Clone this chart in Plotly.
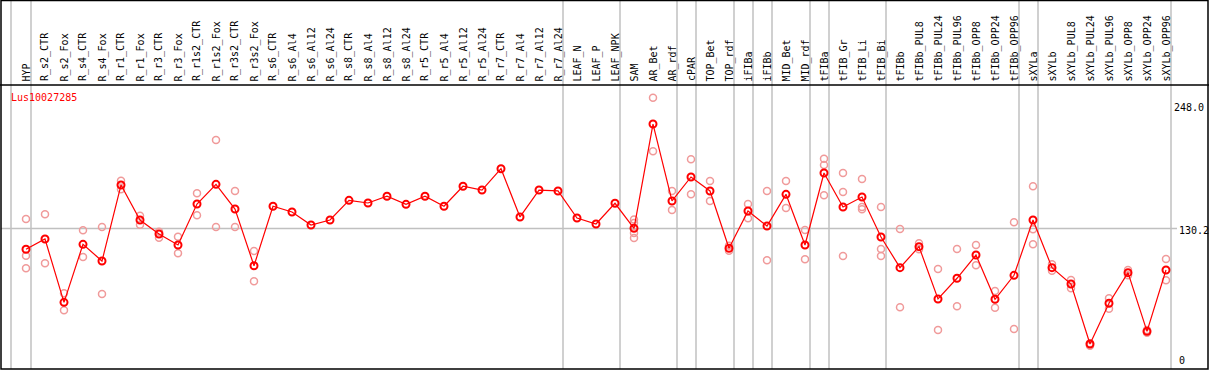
import plotly.graph_objects as go

categories = ["HYP", "R_s2_CTR", "R_s2_Fox", "R_s4_CTR", "R_s4_Fox", "R_r1_CTR", "R_r1_Fox",
              "R_r3_CTR", "R_r3_Fox", "R_r1s2_CTR", "R_r1s2_Fox", "R_r3s2_CTR", "R_r3s2_Fox",
              "R_s6_CTR", "R_s6_Al4", "R_s6_Al12", "R_s6_Al24", "R_s8_CTR", "R_s8_Al4",
              "R_s8_Al12", "R_s8_Al24", "R_r5_CTR", "R_r5_Al4", "R_r5_Al12", "R_r5_Al24",
              "R_r7_CTR", "R_r7_Al4", "R_r7_Al12", "R_r7_Al24", "LEAF_N", "LEAF_P", "LEAF_NPK",
              "SAM", "AR_Bet", "AR_rdf", "cPAR", "TOP_Bet", "TOP_rdf", "iFIBa", "iFIBb",
              "MID_Bet", "MID_rdf", "tFIBa", "tFIB_Gr", "tFIB_Li", "tFIB_Bi", "tFIBb",
              "tFIBb_PUL8", "tFIBb_PUL24", "tFIBb_PUL96", "tFIBb_OPP8", "tFIBb_OPP24",
              "tFIBb_OPP96", "sXYLa", "sXYLb", "sXYLb_PUL8", "sXYLb_PUL24", "sXYLb_PUL96",
              "sXYLb_OPP8", "sXYLb_OPP24", "sXYLb_OPP96"]

means = [109.8, 119.9, 57.8, 114.7, 98.3, 172.8, 138.5, 124.8, 114.0, 154.2, 173.5, 149.3, 93.7,
         152.0, 146.4, 133.6, 138.5, 157.8, 155.2, 161.8, 153.9, 161.8, 152.0, 171.6, 167.9,
         188.8, 141.5, 167.9, 167.0, 140.5, 134.6, 154.9,
         130.4, 232.6, 157.2, 180.7, 167.0, 110.8, 147.4, 132.6, 163.7, 114.0, 184.6, 151.3,
         161.1, 121.9, 91.8, 112.4, 61.1, 81.4, 104.2, 60.8, 84.3, 138.5, 91.8, 75.8, 17.0,
         56.9, 86.9, 29.4, 89.5]

replicates = [
    [139.5, 103.5, 91.2], [144.1, 96.1], [66.7, 50.0], [128.4, 102.3], [131.7, 66.0],
    [177.1, 168.6], [142.7, 133.9], [127.1, 121.2], [122.2, 105.9], [164.7, 143.1],
    [217.0, 131.7], [167.0, 131.7], [108.1, 78.4],
    [], [], [], [], [], [], [], [], [], [], [], [], [], [], [], [], [], [], [],
    [139.0, 135.6, 125.8, 120.9], [258.4, 205.9], [167.0, 148.3], [198.0, 163.7],
    [176.8, 157.2], [113.3, 108.4], [154.2, 140.2], [167.0, 99.0], [176.8, 150.3],
    [128.7, 100.0], [198.6, 192.5, 162.7], [184.6, 166.0, 103.2], [178.7, 151.3, 149.0],
    [151.3, 110.1, 103.2], [129.7, 52.9], [115.7, 109.8], [90.5, 30.7], [110.1, 53.9],
    [114.0, 94.1], [68.9, 52.5], [136.3, 31.7], [171.6, 129.4, 114.7], [95.1, 88.8],
    [79.7, 71.6], [17.6, 15.3], [61.8, 51.6], [89.5, 84.3], [30.7, 28.0], [100.3, 79.4]]

group_ends = ["HYP", "R_r7_Al24", "LEAF_NPK", "AR_rdf", "cPAR", "TOP_rdf", "iFIBa", "iFIBb",
              "MID_rdf", "tFIBa", "tFIB_Bi", "tFIBb_OPP96", "sXYLa", "sXYLb_OPP96"]

gene = "Lus10027285"
tick_vals = [248.0, 130.2, 0]
tick_text = ["248.0", "130.2", "0"]
grid_val = 130.2

# ---- layout geometry (pixel mapping) ----
W, H = 1209, 370
X0_PX, DX_PX = 26.0, 19.0          # pixel of first category, spacing
Y0_PX, KY = 361.3, 1.02            # pixel of value 0, pixels per unit


def px2x(px):
    return (px - X0_PX) / DX_PX


def px2y(py):
    return (Y0_PX - py) / KY


xs = list(range(len(categories)))

fig = go.Figure()

# replicate points
rx, ry = [], []
for i, reps in enumerate(replicates):
    for v in reps:
        rx.append(i)
        ry.append(v)
fig.add_trace(go.Scatter(x=rx, y=ry, mode="markers",
                         marker=dict(symbol="circle-open", size=7, color="#f09a9a",
                                     line=dict(width=1.5, color="#f09a9a")),
                         hoverinfo="skip", showlegend=False))

# mean line + points
fig.add_trace(go.Scatter(x=xs, y=means, mode="lines+markers",
                         line=dict(color="#ff0000", width=1.2),
                         marker=dict(symbol="circle-open", size=7, color="#ff0000",
                                     line=dict(width=2, color="#ff0000")),
                         text=categories, showlegend=False))

shapes = []
# grey vertical group separators
sep_px = [11] + [X0_PX + DX_PX * categories.index(c) + 5 for c in group_ends]
for p in sep_px:
    shapes.append(dict(type="line", x0=px2x(p), x1=px2x(p), y0=px2y(0), y1=px2y(369),
                       line=dict(color="#c0c0c0", width=1.5), layer="below"))
# grey horizontal gridline
shapes.append(dict(type="line", x0=px2x(1), x1=px2x(1177), y0=grid_val, y1=grid_val,
                   line=dict(color="#c0c0c0", width=1.5), layer="below"))
# black separator under labels
shapes.append(dict(type="line", x0=px2x(0), x1=px2x(W), y0=px2y(85), y1=px2y(85),
                   line=dict(color="black", width=1.5)))
# frame
shapes.append(dict(type="rect", x0=px2x(1), x1=px2x(1208), y0=px2y(0.5), y1=px2y(369),
                   line=dict(color="black", width=1.5), fillcolor="rgba(0,0,0,0)"))

annotations = []
for i, c in enumerate(categories):
    annotations.append(dict(x=i, y=px2y(83.5), text=c, textangle=-90, showarrow=False,
                            xanchor="center", yanchor="bottom",
                            font=dict(family="DejaVu Sans Mono", size=10, color="black")))
annotations.append(dict(x=px2x(9), y=px2y(97.5), text=gene, showarrow=False,
                        xanchor="left", yanchor="middle",
                        font=dict(family="DejaVu Sans Mono", size=10, color="#ff0000")))
label_px = {"248.0": 1172, "130.2": 1177, "0": 1177}
label_shift = {"248.0": 1, "130.2": -2, "0": 1}
for v, t in zip(tick_vals, tick_text):
    annotations.append(dict(x=px2x(label_px[t]), y=v, text=t, showarrow=False,
                            xanchor="left", yanchor="middle", yshift=label_shift[t],
                            font=dict(family="DejaVu Sans Mono", size=10, color="black")))

fig.update_layout(
    width=W, height=H, margin=dict(l=0, r=0, t=0, b=0),
    paper_bgcolor="white", plot_bgcolor="white",
    xaxis=dict(visible=False, range=[px2x(0), px2x(W)], fixedrange=True),
    yaxis=dict(visible=False, range=[px2y(H), px2y(0)], fixedrange=True),
    shapes=shapes, annotations=annotations, showlegend=False,
)

fig.write_html("out.html", config={"displayModeBar": False},
               post_script="document.body.style.margin='0';document.body.style.padding='0';"
                           "document.body.style.overflow='hidden';")
